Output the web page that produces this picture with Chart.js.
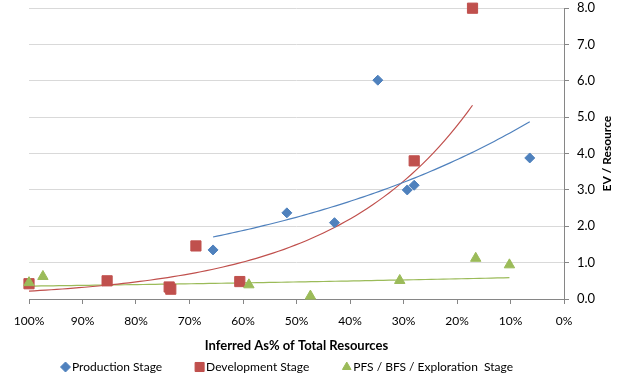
<!DOCTYPE html>
<html>
<head>
<meta charset="utf-8">
<script src="https://cdn.jsdelivr.net/npm/chart.js@4.4.1/dist/chart.umd.min.js"></script>
<style>
  html, body { margin: 0; padding: 0; background: #fff; }
  #wrap { width: 618px; height: 378px; }
</style>
</head>
<body>
<div id="wrap"><canvas id="evChart"></canvas></div>
<script>
// inferred share of total resources (%) vs EV / resource, by project stage
const prodX = [65.6, 51.8, 42.9, 34.8, 29.3, 28.0, 6.4];
const prodY = [1.35, 2.37, 2.10, 6.02, 3.00, 3.13, 3.88];

const devX = [100, 85.4, 73.8, 73.5, 68.8, 60.6, 28.0, 17.1];
const devY = [0.42, 0.50, 0.33, 0.27, 1.46, 0.48, 3.80, 8.00];

const pfsX = [100, 97.4, 58.9, 47.4, 30.7, 16.5, 10.2];
const pfsY = [0.45, 0.62, 0.39, 0.08, 0.51, 1.12, 0.94];

const xTicks = [100, 90, 80, 70, 60, 50, 40, 30, 20, 10, 0];
const yTicks = [0, 1, 2, 3, 4, 5, 6, 7, 8];

const BLUE = '#4f81bd', RED = '#c0504d', GREEN = '#9bbb59';
const FONT = 'Lato, "Open Sans", sans-serif';

function toPoints(xs, ys) {
  return xs.map((x, i) => ({x: x, y: ys[i]}));
}

// exponential trendline y = a*e^(b*x), least squares on ln(y)
function expTrend(xs, ys, steps) {
  const n = xs.length;
  const u = xs.map(x => x / 100);
  const ly = ys.map(y => Math.log(y));
  const mx = u.reduce((s, v) => s + v, 0) / n;
  const my = ly.reduce((s, v) => s + v, 0) / n;
  let sxy = 0, sxx = 0;
  for (let i = 0; i < n; i++) {
    sxy += (u[i] - mx) * (ly[i] - my);
    sxx += (u[i] - mx) * (u[i] - mx);
  }
  const b = sxy / sxx, a = my - b * mx;
  const lo = Math.min(...u), hi = Math.max(...u);
  const pts = [];
  for (let k = 0; k <= steps; k++) {
    const t = lo + (hi - lo) * k / steps;
    pts.push({x: t * 100, y: Math.exp(a + b * t)});
  }
  return pts;
}

function trendSet(xs, ys, color) {
  return {
    type: 'line', data: expTrend(xs, ys, 80), borderColor: color, order: 5,
    borderWidth: 1.2, pointRadius: 0, fill: false, tension: 0, trend: true
  };
}

// right-hand axis title (reads bottom to top) and the legend row
const extrasPlugin = {
  id: 'extras',
  afterDraw(chart) {
    const ctx = chart.ctx, area = chart.chartArea;
    ctx.save();
    ctx.translate(607, (area.top + area.bottom) / 2);
    ctx.rotate(-Math.PI / 2);
    ctx.font = 'bold 12px ' + FONT;
    ctx.fillStyle = '#000';
    ctx.textAlign = 'center';
    ctx.textBaseline = 'middle';
    ctx.fillText('EV / Resource', 0, 0);
    ctx.restore();

    // legend
    ctx.save();
    ctx.font = '12px ' + FONT;
    ctx.textBaseline = 'middle';
    ctx.textAlign = 'left';
    let x = 61;
    const y = 367;
    chart.data.datasets.filter(d => !d.trend).forEach(d => {
      ctx.fillStyle = d.backgroundColor;
      ctx.strokeStyle = d.borderColor;
      ctx.lineWidth = 1;
      const r = d.pointStyle === 'rect' ? 6.4 : 5;
      Chart.helpers.drawPoint(ctx, {pointStyle: d.pointStyle, radius: r, rotation: 0, borderWidth: 1}, x + 4.5, y);
      ctx.fillStyle = '#000';
      ctx.fillText(d.label, x + 11, y);
      x += 11 + ctx.measureText(d.label).width + 33;
    });
    ctx.restore();
  }
};

Chart.defaults.font.family = FONT;
Chart.defaults.color = '#000';

new Chart(document.getElementById('evChart'), {
  type: 'scatter',
  data: {
    datasets: [
      {label: 'Production Stage', data: toPoints(prodX, prodY), pointStyle: 'rectRot', order: 3,
        pointRadius: 5, backgroundColor: BLUE, borderColor: BLUE, borderWidth: 1, clip: false},
      {label: 'Development Stage', data: toPoints(devX, devY), pointStyle: 'rect', order: 2,
        pointRadius: 7.2, backgroundColor: RED, borderColor: RED, borderWidth: 1, clip: false},
      {label: 'PFS / BFS / Exploration  Stage', data: toPoints(pfsX, pfsY), pointStyle: 'triangle', order: 1,
        pointRadius: 6, backgroundColor: GREEN, borderColor: GREEN, borderWidth: 1, clip: false},
      trendSet(prodX, prodY, BLUE),
      trendSet(devX, devY, RED),
      trendSet(pfsX, pfsY, GREEN)
    ]
  },
  options: {
    responsive: true,
    maintainAspectRatio: false,
    animation: false,
    layout: {padding: {top: 0, left: 29, right: 0, bottom: 22}},
    plugins: {
      legend: {display: false},
      tooltip: {enabled: false}
    },
    scales: {
      x: {
        type: 'linear', min: 0, max: 100, reverse: true,
        afterBuildTicks: s => { s.ticks = xTicks.map(v => ({value: v})); },
        afterFit: s => { s.height = 57; },
        ticks: {callback: v => v + '%', font: {size: 12}, padding: 10, maxRotation: 0},
        grid: {drawOnChartArea: false, tickLength: 5, color: '#868686'},
        border: {color: '#868686'},
        title: {display: true, text: 'Inferred As% of Total Resources',
          font: {size: 13, weight: 'bold'}, padding: {top: 4, bottom: 2}}
      },
      y: {
        position: 'right', min: 0, max: 8,
        afterBuildTicks: s => { s.ticks = yTicks.map(v => ({value: v})); },
        afterFit: s => { s.width = 54; s.paddingTop = 8; },
        ticks: {callback: v => v.toFixed(1), font: {size: 13}, padding: 8},
        grid: {color: '#d9d9d9', tickColor: '#868686', tickLength: 5},
        border: {color: '#868686'}
      }
    }
  },
  plugins: [extrasPlugin]
});
</script>
</body>
</html>
